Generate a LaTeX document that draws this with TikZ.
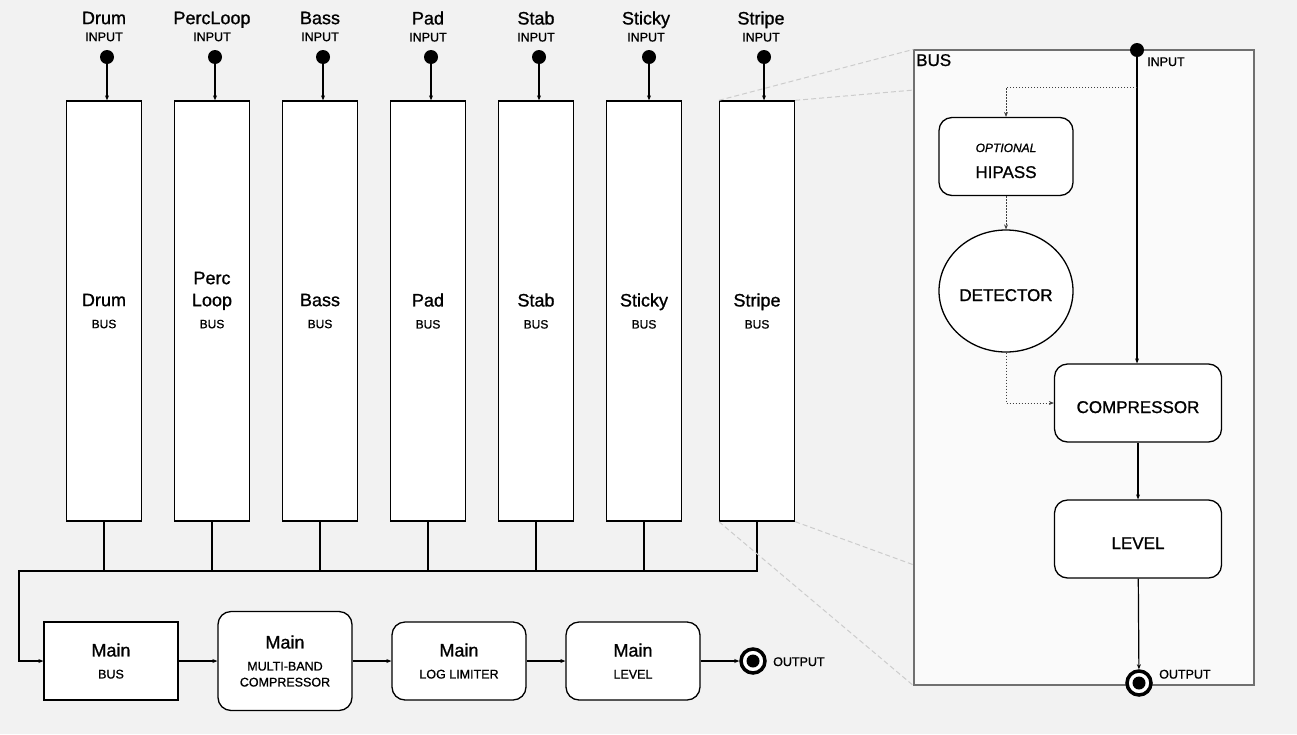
\documentclass[tikz,border=0pt]{standalone}
\usepackage{fontspec}
\setsansfont{Liberation Sans}[RawFeature={embolden=1}]
\usetikzlibrary{arrows.meta}
\usetikzlibrary{shapes.geometric}
\definecolor{bg}{RGB}{242,242,242}
\definecolor{pn}{RGB}{250,250,250}
\definecolor{pl}{RGB}{112,112,112}
\definecolor{zl}{RGB}{204,204,204}

\begin{document}
\begin{tikzpicture}[
    x=1pt, y=-1pt,
    font=\sffamily,
    a/.style={
        line width=1.2pt,
        color=black,
    },
    l/.style={
        a,-{Stealth[length=5pt,width=4pt]}
    },
    d/.style={
        line width=0.7pt, color=black!75, dash pattern=on 1.5pt off 1.5pt,
        -{Stealth[length=5pt,width=4pt]}
    },
    zm/.style={
        line width=1pt, color=zl, dash pattern=on 5pt off 3pt
    },
    t/.style={
        align=center, inner sep=0pt,
        font=\sffamily\fontsize{18}{17}\selectfont
    },
    c/.style={
        draw, fill=white, line width=1.3pt, inner sep=0pt,
        minimum width=75pt, minimum height=420pt, align=center,
        font=\sffamily\fontsize{18}{22}\selectfont
    },
    m/.style={
        draw, fill=white, line width=1.3pt, inner sep=0pt,
        rounded corners=13pt, minimum width=134pt, minimum height=78pt,
        align=center, font=\sffamily\fontsize{18}{22}\selectfont
    },
    s/.style={
        m, minimum width=167pt, text height=20pt, text depth=0pt,
        font=\sffamily\fontsize{17}{20}\selectfont
    },
    i/.style={
        circle, fill=black, minimum size=14pt, inner sep=0pt
    },
    o/.style={
        circle, draw, fill=white, line width=3.5pt, minimum size=24pt, inner sep=0pt,
        path picture={\fill [black] (path picture bounding box.center) circle (6.5pt);}
    },
    e/.style={
        anchor=base west, inner sep=0pt,
        font=\sffamily\fontsize{12.5}{15}\selectfont
    }
]

    \fill [bg] (0,0) rectangle (1297,734);

    % bus detail
    \node [draw=pl, fill=pn, line width=1.2pt, inner sep=0pt,
           minimum width=340pt, minimum height=635pt] (panel) at (1084,367.5) {};

    % input channels
    \node [t] (drum-n)   at (104,26.5) {Drum\\{\fontsize{12.5}{15}\selectfont INPUT}};
    \node [t] (perc-n)   at (212,26.5) {PercLoop\\{\fontsize{12.5}{15}\selectfont INPUT}};
    \node [t] (bass-n)   at (320,26.5) {Bass\\{\fontsize{12.5}{15}\selectfont INPUT}};
    \node [t] (pad-n)    at (428,26.5) {Pad\\{\fontsize{12.5}{15}\selectfont INPUT}};
    \node [t] (stab-n)   at (536,26.5) {Stab\\{\fontsize{12.5}{15}\selectfont INPUT}};
    \node [t] (sticky-n) at (646,26.5) {Sticky\\{\fontsize{12.5}{15}\selectfont INPUT}};
    \node [t] (stripe-n) at (761,26.5) {Stripe\\{\fontsize{12.5}{15}\selectfont INPUT}};

    \node [i] (drum-i)   at (107,57) {};
    \node [i] (perc-i)   at (215,57) {};
    \node [i] (bass-i)   at (323,57) {};
    \node [i] (pad-i)    at (431,57) {};
    \node [i] (stab-i)   at (539,57) {};
    \node [i] (sticky-i) at (649,57) {};
    \node [i] (stripe-i) at (764,57) {};

    \node [c] (drum)   at (104,311) {Drum\\{\fontsize{12}{14}\selectfont BUS}};
    \node [c, text depth=22pt] (perc) at (212,311) {Perc\\Loop\\{\fontsize{12}{14}\selectfont BUS}};
    \node [c] (bass)   at (320,311) {Bass\\{\fontsize{12}{14}\selectfont BUS}};
    \node [c] (pad)    at (428,311) {Pad\\{\fontsize{12}{14}\selectfont BUS}};
    \node [c] (stab)   at (536,311) {Stab\\{\fontsize{12}{14}\selectfont BUS}};
    \node [c] (sticky) at (644,311) {Sticky\\{\fontsize{12}{14}\selectfont BUS}};
    \node [c] (stripe) at (757,311) {Stripe\\{\fontsize{12}{14}\selectfont BUS}};

    \draw [l] (drum-i)   -- (drum-i |- drum.north);
    \draw [l] (perc-i)   -- (perc-i |- perc.north);
    \draw [l] (bass-i)   -- (bass-i |- bass.north);
    \draw [l] (pad-i)    -- (pad-i |- pad.north);
    \draw [l] (stab-i)   -- (stab-i |- stab.north);
    \draw [l] (sticky-i) -- (sticky-i |- sticky.north);
    \draw [l] (stripe-i) -- (stripe-i |- stripe.north);

    % main chain
    \node [m, sharp corners] (mbus) at (111,661) {Main\\{\fontsize{12.5}{15}\selectfont BUS}};
    \node [m, minimum height=99pt] (mmbc) at (285,661)
        {Main\\{\fontsize{12.5}{15}\selectfont MULTI-BAND}\\[-6pt]{\fontsize{12.5}{15}\selectfont COMPRESSOR}};
    \node [m] (mlog) at (459,661) {Main\\{\fontsize{12.5}{15}\selectfont LOG LIMITER}};
    \node [m] (mlev) at (633,661) {Main\\{\fontsize{12.5}{15}\selectfont LEVEL}};
    \node [o] (mout) at (753,661) {};
    \node [e] (mout-t) at (773,666) {OUTPUT};

    \coordinate (j) at (19,571);
    \draw [a] (drum.south)   -- (drum.south |- j);
    \draw [a] (perc.south)   -- (perc.south |- j);
    \draw [a] (bass.south)   -- (bass.south |- j);
    \draw [a] (pad.south)    -- (pad.south |- j);
    \draw [a] (stab.south)   -- (stab.south |- j);
    \draw [a] (sticky.south) -- (sticky.south |- j);
    \draw [l] (stripe.south) |- (j) |- (mbus.west);

    \draw [l] (mbus) -- (mmbc);
    \draw [l] (mmbc) -- (mlog);
    \draw [l] (mlog) -- (mlev);
    \draw [l] (mlev) -- (mout);

    % zoom lines
    \coordinate (z1) at (914,90);
    \coordinate (z2) at (914,565);
    \draw [zm] (stripe.north west) -- (panel.north west);
    \draw [zm] (stripe.north east) -- (z1);
    \draw [zm] (stripe.south west) -- (panel.south west);
    \draw [zm] (stripe.south east) -- (z2);

    % inside the bus
    \node [anchor=base west, inner sep=0pt, font=\sffamily\fontsize{17}{20}\selectfont] (bus-t) at (916,66) {BUS};
    \node [i] (bin) at (1137,50) {};
    \node [e] (bin-t) at (1147,66) {INPUT};
    \node [m, text height=43pt, text depth=0pt] (hip) at (1006,156.5)
        {{\fontsize{12}{14}\selectfont\itshape OPTIONAL}\\[4pt]{\fontsize{17}{20}\selectfont HIPASS}};
    \node [ellipse, draw, fill=white, line width=1.3pt, inner sep=0pt,
           minimum width=134pt, minimum height=122pt, text height=20pt, text depth=0pt,
           font=\sffamily\fontsize{17}{20}\selectfont] (det) at (1006,291) {DETECTOR};
    \node [s] (comp) at (1138,403) {COMPRESSOR};
    \node [s] (lev)  at (1138,539) {LEVEL};
    \node [o] (bout) at (1139,683) {};
    \node [e] (bout-t) at (1159,678.5) {OUTPUT};

    \coordinate (k) at (1006,87);
    \draw [l] (bin) -- (bin |- comp.north);
    \draw [d] (bin |- k) -- (k) -- (hip);
    \draw [d] (hip) -- (det);
    \draw [d] (det) |- (comp);
    \draw [l] (comp) -- (lev);
    \draw [l] (lev) -- (bout);

\end{tikzpicture}
\end{document}
